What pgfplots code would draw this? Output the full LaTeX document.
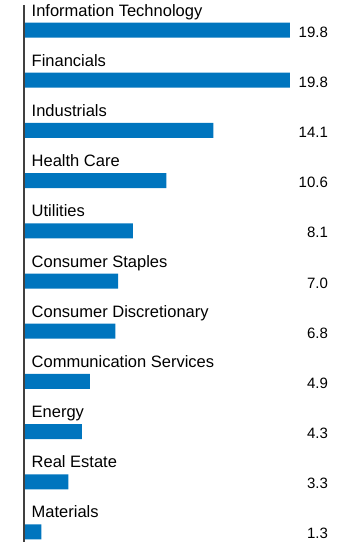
\documentclass[border=0pt]{standalone}
\usepackage{pgfplots}
\usepackage{pgfplotstable}
\pgfplotsset{compat=1.18}
\usepackage{fontspec}
\setmainfont{Liberation Sans}
\definecolor{barblue}{RGB}{0,117,190}
\definecolor{axisgray}{RGB}{64,64,64}
\pgfplotstableread[col sep=comma]{
idx,value,label
0,19.8,Information Technology
1,19.8,Financials
2,14.1,Industrials
3,10.6,Health Care
4,8.1,Utilities
5,7.0,Consumer Staples
6,6.8,Consumer Discretionary
7,4.9,Communication Services
8,4.3,Energy
9,3.3,Real Estate
10,1.3,Materials
}\data
\begin{document}
\begin{tikzpicture}
\useasboundingbox (0,0) rectangle (354pt,547pt);
\begin{axis}[
  at={(24pt,0pt)}, anchor=south west,
  scale only axis, width=330pt, height=547pt,
  xmin=0, xmax=24.57,
  ymin=-0.598, ymax=10.299, y dir=reverse,
  axis lines=none, ticks=none, clip=false,
]
\addplot[xbar, fill=barblue, draw=none, bar width=15pt, bar shift=0pt] table[x=value,y=idx]{\data};
\addplot[draw=none, mark=none, nodes near coords, point meta=explicit symbolic,
  nodes near coords style={anchor=base west, font=\fontsize{16.5}{19}\selectfont, xshift=7.5pt, yshift=14pt, inner sep=0pt, text=black}]
  table[x expr=0, y=idx, meta=label]{\data};
\addplot[draw=none, mark=none, nodes near coords, point meta=explicit symbolic,
  nodes near coords style={anchor=base east, font=\fontsize{15}{18}\selectfont, yshift=-7pt, inner sep=0pt, text=black}]
  table[x expr=22.64, y=idx, meta=value]{\data};
\draw[axisgray, line width=1.3pt] (axis cs:0,-0.5) -- (axis cs:0,10.2);
\end{axis}
\end{tikzpicture}
\end{document}
